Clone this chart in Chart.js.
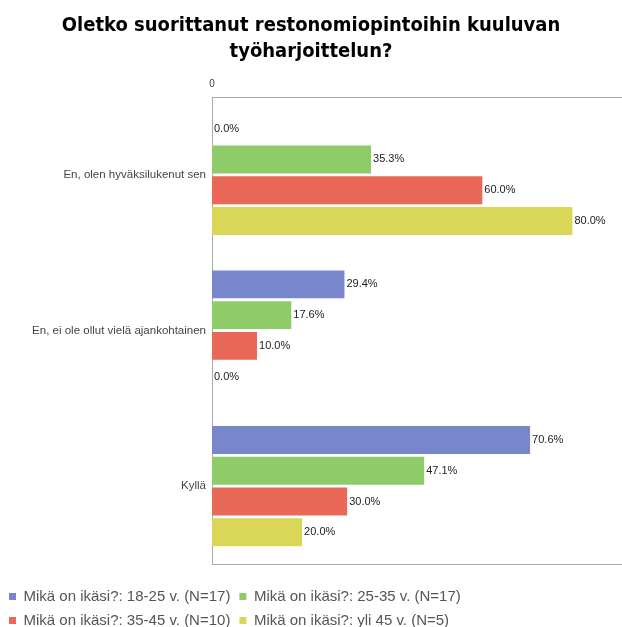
<!DOCTYPE html>
<html>
<head>
<meta charset="utf-8">
<script src="https://cdn.jsdelivr.net/npm/chart.js@4"></script>
<style>
    html, body { margin: 0; padding: 0; background: #fff; }
    #wrap { width: 622px; height: 627px; }
</style>
</head>
<body>
<div id="wrap"><canvas id="myChart" width="622" height="627"></canvas></div>
<script>
// Данные
const categories = ['En, olen hyväksilukenut sen', 'En, ei ole ollut vielä ajankohtainen', 'Kyllä'];
const seriesNames = [
    'Mikä on ikäsi?: 18-25 v. (N=17)',
    'Mikä on ikäsi?: 25-35 v. (N=17)',
    'Mikä on ikäsi?: 35-45 v. (N=10)',
    'Mikä on ikäsi?: yli 45 v. (N=5)'
];
const age18_25 = [0.0, 29.4, 70.6];
const age25_35 = [35.3, 17.6, 47.1];
const age35_45 = [60.0, 10.0, 30.0];
const ageOver45 = [80.0, 0.0, 20.0];
const xTickValues = [0];

const colors = ['rgb(120, 135, 204)', 'rgb(142, 204, 106)', 'rgb(233, 104, 88)', 'rgb(217, 214, 88)'];
const seriesValues = [age18_25, age25_35, age35_45, ageOver45];

// Подписи значений у концов столбцов
const valueLabels = {
    id: 'valueLabels',
    afterDatasetsDraw(chart) {
        const ctx = chart.ctx;
        ctx.save();
        ctx.font = '11px "Liberation Sans", Arial, sans-serif';
        ctx.fillStyle = '#222';
        ctx.textAlign = 'left';
        ctx.textBaseline = 'middle';
        chart.data.datasets.forEach((ds, i) => {
            chart.getDatasetMeta(i).data.forEach((bar, j) => {
                ctx.fillText(ds.data[j].toFixed(1) + '%', bar.x + 2, bar.y);
            });
        });
        ctx.restore();
    }
};

const ctx = document.getElementById('myChart').getContext('2d');
const myChart = new Chart(ctx, {
    type: 'bar',
    data: {
        labels: categories,
        datasets: seriesValues.map((vals, i) => ({
            label: seriesNames[i],
            data: vals,
            backgroundColor: colors[i],
            borderWidth: 0,
            categoryPercentage: 0.79,
            barPercentage: 0.91
        }))
    },
    options: {
        indexAxis: 'y',
        responsive: false,
        animation: false,
        layout: {
            padding: { left: 0, right: 0, top: 0, bottom: -11 }
        },
        plugins: {
            title: {
                display: true,
                text: ['Oletko suorittanut restonomiopintoihin kuuluvan', 'työharjoittelun?'],
                color: '#000',
                font: { family: '"DejaVu Sans Condensed", "DejaVu Sans", sans-serif', size: 20, weight: 'bold', lineHeight: 1.3 },
                padding: { top: 13, bottom: 0 }
            },
            legend: {
                position: 'bottom',
                align: 'start',
                labels: {
                    boxWidth: 7,
                    boxHeight: 7,
                    padding: 9,
                    color: '#555',
                    font: { family: '"Liberation Sans", Arial, sans-serif', size: 15 }
                }
            },
            tooltip: { enabled: false }
        },
        scales: {
            x: {
                position: 'top',
                min: 0,
                max: 91,
                grid: { display: false, drawTicks: false },
                border: { display: true, color: '#aaa', width: 1 },
                afterBuildTicks: (scale) => {
                    scale.ticks = xTickValues.map(v => ({ value: v }));
                },
                afterFit: (scale) => { scale.height = 32; },
                ticks: {
                    padding: 7,
                    color: '#444',
                    font: { family: '"Liberation Sans", Arial, sans-serif', size: 10 },
                    callback: (v) => String(v)
                }
            },
            x2: {
                type: 'linear',
                axis: 'x',
                position: 'bottom',
                grid: { display: false, drawTicks: false },
                border: { display: true, color: '#aaa', width: 1 },
                ticks: { display: false },
                afterFit: (scale) => { scale.height = 16; }
            },
            y: {
                grid: { display: false, drawTicks: false },
                border: { display: true, color: '#aaa', width: 1 },
                afterFit: (scale) => { scale.width = 212; },
                ticks: {
                    padding: 6,
                    color: '#444',
                    font: { family: '"Liberation Sans", Arial, sans-serif', size: 11.5 }
                }
            }
        }
    },
    plugins: [valueLabels]
});
</script>
</body>
</html>
